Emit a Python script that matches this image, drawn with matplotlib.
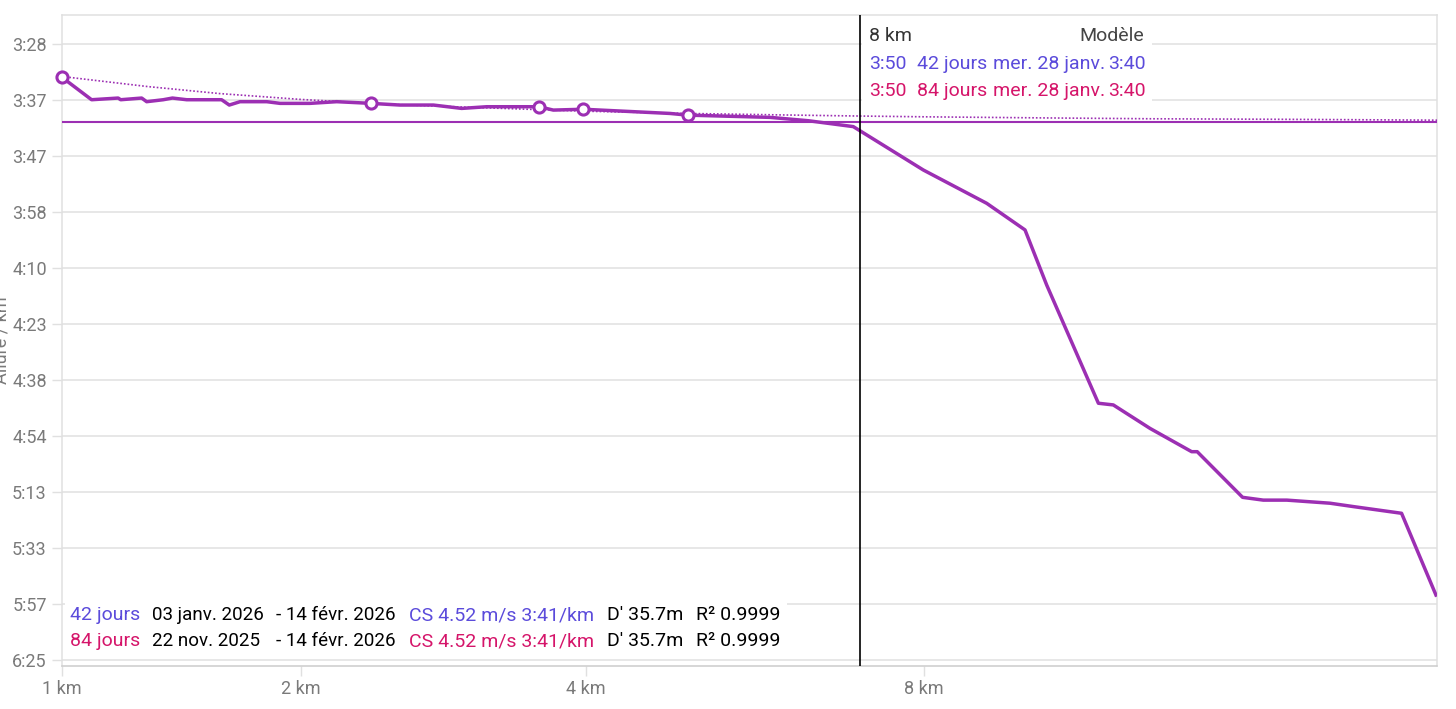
import numpy as np
import matplotlib
matplotlib.use('Agg')
import matplotlib.pyplot as plt
from matplotlib.patches import Rectangle

plt.rcParams['font.family'] = ['Roboto', 'DejaVu Sans']

# best efforts, distance (km) vs speed (m/s)
dist_km = [1.000, 1.097, 1.190, 1.199, 1.277, 1.296, 1.361, 1.398, 1.457, 1.609,
           1.644, 1.694, 1.823, 1.890, 2.047, 2.196, 2.399, 2.580, 2.802, 3.001,
           3.186, 3.526, 3.600, 3.719, 3.980, 4.811, 4.995, 5.924, 6.398, 6.990,
           7.993, 8.990, 9.636, 10.017, 10.970, 11.257, 11.990, 12.860, 12.980,
           13.990, 14.470, 15.030, 16.100, 16.700, 18.000, 18.970]
speed_ms = [4.681, 4.601, 4.607, 4.601, 4.607, 4.594, 4.601, 4.607, 4.601, 4.601,
            4.582, 4.594, 4.594, 4.588, 4.588, 4.594, 4.588, 4.582, 4.582, 4.570,
            4.576, 4.576, 4.576, 4.564, 4.567, 4.552, 4.546, 4.538, 4.526, 4.505,
            4.350, 4.231, 4.136, 3.939, 3.517, 3.511, 3.427, 3.344, 3.344,
            3.181, 3.171, 3.171, 3.160, 3.148, 3.124, 2.832]

# efforts on the model (open circles)
key_km = [1.000, 2.399, 3.600, 3.980, 4.995]
key_ms = [4.681, 4.588, 4.576, 4.567, 4.546]

# model curve
model_km = [1, 1.3, 1.6, 2, 2.5, 3, 4, 5, 6, 7, 8, 10, 12, 15, 19]
model_ms = [4.684, 4.648, 4.623, 4.602, 4.585, 4.575, 4.560, 4.552, 4.547,
            4.543, 4.540, 4.536, 4.533, 4.531, 4.528]

cs_ms = 4.52
cursor_km = 7.08

y_ticks = [4.8, 4.6, 4.4, 4.2, 4.0, 3.8, 3.6, 3.4, 3.2, 3.0, 2.8, 2.6]
y_labels = ['3:28', '3:37', '3:47', '3:58', '4:10', '4:23', '4:38', '4:54',
            '5:13', '5:33', '5:57', '6:25']
x_ticks = [1, 2, 4, 8]
x_labels = ['1 km', '2 km', '4 km', '8 km']

PURPLE = '#9C2FB3'
BLUE = '#5B4BDB'
PINK = '#D5156A'
GRID = '#e0e0e0'
TICK = '#7a7a7a'
FS = 14

W, H = 1456, 709
fig = plt.figure(figsize=(W / 100, H / 100), dpi=100)
ax = fig.add_axes([62 / W, 1 - 666 / H, (1437 - 62) / W, (666 - 15) / H])

def fx(p):
    return p / W

def fy(p):
    return 1 - p / H

ax.set_xscale('function', functions=(lambda d: np.power(np.clip(d, 0, None), 0.25),
                                     lambda v: np.power(v, 4)))
ax.set_xlim(1, 19.0)
ax.set_ylim(2.5786, 4.9036)

ax.set_yticks(y_ticks)
ax.set_yticklabels(y_labels)
ax.set_xticks(x_ticks)
ax.set_xticklabels(x_labels)
ax.xaxis.set_minor_locator(matplotlib.ticker.NullLocator())
ax.tick_params(axis='both', colors=GRID, labelcolor=TICK, labelsize=13, length=7, width=1)
ax.tick_params(axis='x', pad=3)
ax.tick_params(axis='y', pad=4)
ax.yaxis.grid(True, color=GRID, lw=1.1)
ax.set_axisbelow(True)
for s in ax.spines.values():
    s.set_color(GRID)
    s.set_linewidth(1.1)
ax.spines['bottom'].set_color('#cccccc')

# model, CS and data
ax.plot(model_km, model_ms, ls=(0, (1, 1.2)), color=PURPLE, lw=1.2, zorder=3)
ax.axhline(cs_ms, color=PURPLE, lw=1.5, zorder=3)
ax.plot(dist_km, speed_ms, color=PURPLE, lw=2.5, zorder=4, solid_joinstyle='round')
ax.plot(key_km, key_ms, 'o', ms=8, mfc='white', mec=PURPLE, mew=2.2, zorder=5,
        clip_on=False)
ax.axvline(cursor_km, color='black', lw=1.2, zorder=6)

fig.text(fx(1.5), fy(340), 'Allure / km', rotation=90, ha='center', va='center',
         color=TICK, fontsize=13)

# tooltip
fig.patches.append(Rectangle((fx(862), fy(104)), fx(1152) - fx(862), fy(22) - fy(104),
                             transform=fig.transFigure, fc='white', ec='none', zorder=5))
fig.text(fx(869), fy(36), '8 km', color='#333333', fontsize=FS, va='center', zorder=6)
fig.text(fx(1144), fy(36), 'Modèle', color='#444444', fontsize=FS, va='center',
         ha='right', zorder=6)
for yy, col, lbl in [(64, BLUE, '42 jours'), (91, PINK, '84 jours')]:
    fig.text(fx(869), fy(yy), '3:50', color=col, fontsize=FS, va='center', zorder=6)
    fig.text(fx(917), fy(yy), lbl, color=col, fontsize=FS, va='center', zorder=6)
    fig.text(fx(993), fy(yy), 'mer. 28 janv.', color=col, fontsize=FS, va='center', zorder=6)
    fig.text(fx(1146), fy(yy), '3:40', color=col, fontsize=FS, va='center', ha='right',
             zorder=6)

# legend
fig.patches.append(Rectangle((fx(65), fy(655)), fx(787) - fx(65), fy(598) - fy(655),
                             transform=fig.transFigure, fc='white', ec='none', zorder=5))
rows = [(615, BLUE, '42 jours', '03 janv. 2026'), (641, PINK, '84 jours', '22 nov. 2025')]
for yy, col, lbl, start in rows:
    fig.text(fx(70), fy(yy), lbl, color=col, fontsize=FS, va='center', zorder=6)
    fig.text(fx(152), fy(yy), start, color='black', fontsize=13.5, va='center', zorder=6)
    fig.text(fx(396), fy(yy), '- 14 févr. 2026', color='black', fontsize=13.5, va='center',
             ha='right', zorder=6)
    fig.text(fx(409), fy(yy), 'CS 4.52 m/s 3:41/km', color=col, fontsize=FS, va='center',
             zorder=6)
    fig.text(fx(607), fy(yy), "D' 35.7m", color='black', fontsize=FS, va='center', zorder=6)
    fig.text(fx(696), fy(yy), 'R² 0.9999', color='black', fontsize=FS, va='center', zorder=6)

fig.savefig('out.png', dpi=100)
